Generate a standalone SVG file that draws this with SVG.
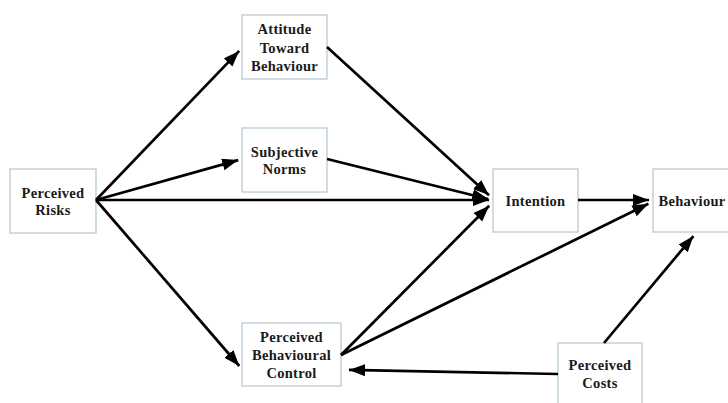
<svg xmlns="http://www.w3.org/2000/svg" width="728" height="403" viewBox="0 0 728 403">
<style>
.box{fill:#ffffff;stroke:#b3c6d2;stroke-width:1.2}
.lbl{font-family:"Liberation Serif","Times New Roman",serif;font-weight:bold;font-size:14.5px;fill:#1a1a1a;text-anchor:middle;letter-spacing:0.3px}
.edge{stroke:#000;stroke-width:2.7;fill:none;marker-end:url(#ah)}
</style>
<defs>
<marker id="ah" markerUnits="userSpaceOnUse" markerWidth="17" markerHeight="13" refX="16" refY="6" orient="auto">
<path d="M0,0 L16,6 L0,12 Z" fill="#000"/>
</marker>
</defs>
<rect width="728" height="403" fill="#ffffff"/>
<g id="risks"><rect class="box" x="10" y="169" width="86" height="64"/><text class="lbl" x="53" y="198">Perceived</text><text class="lbl" x="53" y="215">Risks</text></g>
<g id="attitude"><rect class="box" x="242" y="15" width="85" height="64"/><text class="lbl" x="284.5" y="34">Attitude</text><text class="lbl" x="284.5" y="53">Toward</text><text class="lbl" x="284.5" y="71">Behaviour</text></g>
<g id="norms"><rect class="box" x="242" y="128" width="85" height="64"/><text class="lbl" x="284.5" y="157">Subjective</text><text class="lbl" x="284.5" y="174">Norms</text></g>
<g id="pbc"><rect class="box" x="242" y="323" width="99" height="63"/><text class="lbl" x="291.5" y="342">Perceived</text><text class="lbl" x="291.5" y="360">Behavioural</text><text class="lbl" x="291.5" y="378">Control</text></g>
<g id="intention"><rect class="box" x="493" y="169" width="85" height="63"/><text class="lbl" x="535.5" y="206">Intention</text></g>
<g id="behaviour"><rect class="box" x="653" y="169" width="86" height="63"/><text class="lbl" x="692" y="206">Behaviour</text></g>
<g id="costs"><rect class="box" x="558" y="343" width="84" height="64"/><text class="lbl" x="600" y="370">Perceived</text><text class="lbl" x="600" y="388">Costs</text></g>
<g id="connectors">
<line class="edge" x1="96" y1="200" x2="239.2" y2="50.9"/>
<line class="edge" x1="96" y1="200" x2="238.2" y2="160.1"/>
<line class="edge" x1="96" y1="200" x2="489" y2="200"/>
<line class="edge" x1="96" y1="200" x2="239.3" y2="366"/>
<line class="edge" x1="327" y1="47" x2="489" y2="195.3"/>
<line class="edge" x1="327" y1="159" x2="488.1" y2="199"/>
<line class="edge" x1="341" y1="355" x2="489.2" y2="205.8"/>
<line class="edge" x1="341" y1="355" x2="648.4" y2="203.8"/>
<line class="edge" x1="578" y1="200" x2="649" y2="200"/>
<line class="edge" x1="604" y1="343" x2="693.4" y2="236.1"/>
<line class="edge" x1="558" y1="374" x2="349" y2="369.9"/>
</g>
</svg>
